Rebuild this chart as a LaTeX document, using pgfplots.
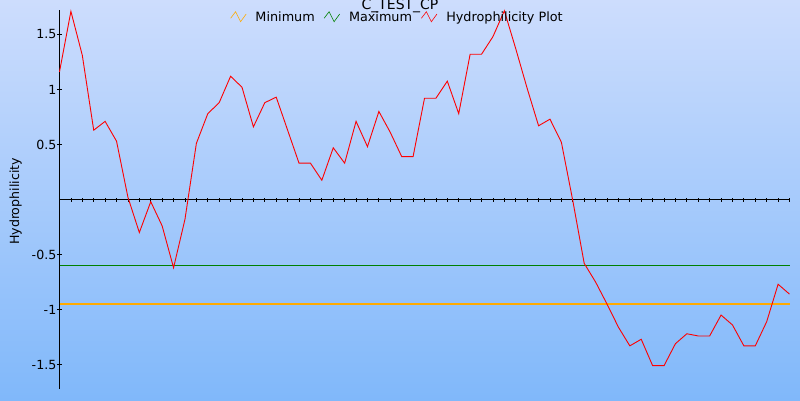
\documentclass[border=0pt]{standalone}
\usepackage{fontspec}
\setmainfont{DejaVu Sans}
\usepackage{pgfplots}
\pgfplotsset{compat=1.18}
\definecolor{bgtop}{RGB}{205,221,253}
\definecolor{bgbot}{RGB}{128,184,250}
\definecolor{minorange}{RGB}{255,170,0}
\definecolor{maxgreen}{RGB}{0,128,0}
\begin{document}
\begin{tikzpicture}[x=1pt,y=1pt]
\shade[top color=bgtop, bottom color=bgbot] (0,0) rectangle (800,400);
\path[use as bounding box] (0,0) rectangle (800,400);
\begin{axis}[
  scale only axis, width=730pt, height=379pt,
  at={(59.5pt,11pt)}, anchor=south west,
  xmin=0, xmax=64, ymin=-1.722, ymax=1.722,
  axis x line=middle, axis y line=left,
  axis line style={-, black, line width=0.8pt},
  xtick={1,...,64}, xticklabels={},
  ytick={-1.5,-1,-0.5,0.5,1,1.5},
  yticklabels={-1.5,-1,-0.5,0.5,1,1.5},
  tick align=center, major tick length=4pt,
  tick style={black, line width=0.8pt},
  yticklabel style={font=\fontsize{12.6}{15}\selectfont, inner sep=0pt, xshift=-1pt},
  legend style={at={(axis description cs:0.4630,0.9815)}, anchor=center, draw=none, fill=none,
    legend columns=-1, font=\fontsize{12.8}{15}\selectfont, inner sep=0pt,
    /tikz/every odd column/.append style={column sep=7pt},
    /tikz/every even column/.append style={column sep=7pt}},
  legend image code/.code={\draw[#1, line width=0.6pt] (0pt,-1.3pt) -- (5pt,5.3pt) -- (10pt,-4.7pt) -- (15.6pt,3pt);},
  clip=false,
]
\addplot[minorange, line width=1.2pt] coordinates {(0,-0.95) (64,-0.95)};
\addlegendentry{Minimum}
\addplot[maxgreen, line width=1pt] coordinates {(0,-0.6) (64,-0.6)};
\addlegendentry{Maximum}
\addplot[red, line width=0.9pt] table[x=i, y=v] {
i v
0 1.16
1 1.71
2 1.31
3 0.63
4 0.71
5 0.53
6 0.02
7 -0.30
8 -0.02
9 -0.24
10 -0.62
11 -0.18
12 0.51
13 0.78
14 0.88
15 1.12
16 1.02
17 0.66
18 0.88
19 0.93
20 0.63
21 0.33
22 0.33
23 0.175
24 0.47
25 0.33
26 0.71
27 0.48
28 0.80
29 0.61
30 0.39
31 0.39
32 0.92
33 0.92
34 1.075
35 0.78
36 1.32
37 1.32
38 1.48
39 1.715
40 1.37
41 1.01
42 0.67
43 0.73
44 0.52
45 -0.01
46 -0.58
47 -0.75
48 -0.95
49 -1.16
50 -1.33
51 -1.27
52 -1.51
53 -1.51
54 -1.31
55 -1.22
56 -1.24
57 -1.24
58 -1.05
59 -1.14
60 -1.33
61 -1.33
62 -1.11
63 -0.77
64 -0.86
};
\addlegendentry{Hydrophilicity Plot}
\end{axis}
\node[anchor=base, font=\fontsize{14}{16}\selectfont, inner sep=0pt] at (400,390.7) {C\_TEST\_CP};
\node[rotate=90, anchor=base, font=\fontsize{12.6}{15}\selectfont, inner sep=0pt] at (19.2,198.5) {Hydrophilicity};
\end{tikzpicture}
\end{document}
